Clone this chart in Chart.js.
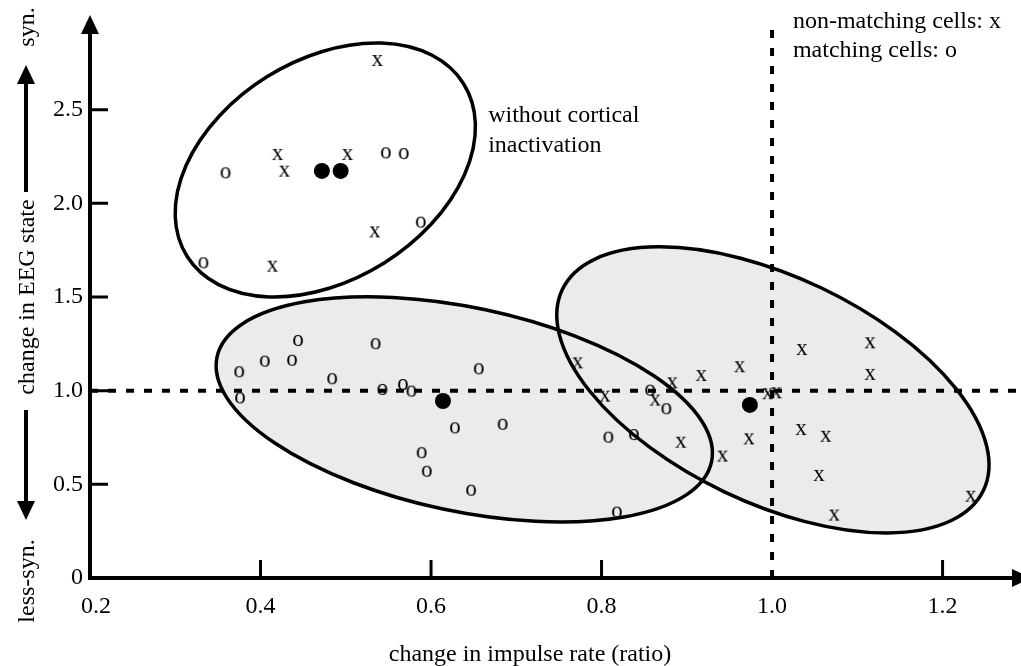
<!DOCTYPE html>
<html>
<head>
<meta charset="utf-8">
<script src="https://cdn.jsdelivr.net/npm/chart.js@4/dist/chart.umd.min.js"></script>
<style>
  html, body { margin: 0; padding: 0; background: #fff; }
  #wrap { width: 1021px; height: 666px; position: relative; }
</style>
</head>
<body>
<div id="wrap"><canvas id="chart"></canvas></div>
<script>
// non-matching cells (x)
var nonMatchingX = [0.537, 0.420, 0.428, 0.502, 0.534, 0.414,
  0.772, 0.804, 0.863, 0.883, 0.917, 0.962, 0.995, 1.005, 0.893, 0.942, 0.973,
  1.035, 1.115, 1.115, 1.034, 1.063, 1.055, 1.073, 1.233];
var nonMatchingY = [2.760, 2.258, 2.169, 2.258, 1.845, 1.662,
  1.146, 0.968, 0.947, 1.039, 1.078, 1.125, 0.981, 0.986, 0.722, 0.648, 0.740,
  1.217, 1.253, 1.084, 0.790, 0.754, 0.545, 0.333, 0.434];

// matching cells (o)
var matchingX = [0.547, 0.568, 0.359, 0.588, 0.333,
  0.444, 0.535, 0.405, 0.437, 0.375, 0.484, 0.656, 0.376, 0.543, 0.567, 0.577,
  0.628, 0.684, 0.589, 0.595, 0.647,
  0.857, 0.876, 0.808, 0.838, 0.818];
var matchingY = [2.267, 2.263, 2.160, 1.897, 1.680,
  1.265, 1.248, 1.155, 1.160, 1.098, 1.061, 1.114, 0.959, 1.004, 1.030, 0.995,
  0.799, 0.818, 0.666, 0.567, 0.466,
  1.000, 0.901, 0.749, 0.763, 0.349];

// group means (filled dots)
var meanX = [0.472, 0.494, 0.614, 0.974];
var meanY = [2.173, 2.173, 0.945, 0.924];

var xTicks = [0.2, 0.4, 0.6, 0.8, 1.0, 1.2];
var xTickLabels = ['0.2', '0.4', '0.6', '0.8', '1.0', '1.2'];
var yTicks = [0, 0.5, 1.0, 1.5, 2.0, 2.5];
var yTickLabels = ['0', '0.5', '1.0', '1.5', '2.0', '2.5'];

// ellipses in data units: centre, end of long half-axis, end of short half-axis
var ellipseCentres = [[0.476, 2.178], [0.639, 0.900], [1.001, 1.004]];
var ellipseMajorEnds = [[0.638, 2.640], [0.929, 0.620], [1.248, 0.468]];
var ellipseMinorEnds = [[0.545, 1.682], [0.614, 0.368], [0.944, 0.460]];
var ellipseShaded = [false, true, true];

var FONT = '"Liberation Serif", "Times New Roman", serif';

function toPoints(xs, ys) {
  return xs.map(function (v, i) { return { x: v, y: ys[i] }; });
}

// letter used as a point marker
function glyph(ch) {
  var c = document.createElement('canvas');
  c.width = 24; c.height = 24;
  var g = c.getContext('2d');
  g.font = '23px ' + FONT;
  g.textAlign = 'center';
  g.fillStyle = '#000';
  g.fillText(ch, 12, 17.3);
  return c;
}

function ellipsePath(ctx, xs, ys, i) {
  var cx = xs.getPixelForValue(ellipseCentres[i][0]), cy = ys.getPixelForValue(ellipseCentres[i][1]);
  var ux = xs.getPixelForValue(ellipseMajorEnds[i][0]) - cx, uy = ys.getPixelForValue(ellipseMajorEnds[i][1]) - cy;
  var vx = xs.getPixelForValue(ellipseMinorEnds[i][0]) - cx, vy = ys.getPixelForValue(ellipseMinorEnds[i][1]) - cy;
  ctx.save();
  ctx.transform(ux, uy, vx, vy, cx, cy);
  ctx.beginPath();
  ctx.arc(0, 0, 1, 0, Math.PI * 2);
  ctx.restore();
}

function arrowHead(ctx, tipX, tipY, dx, dy, len, half) {
  ctx.beginPath();
  ctx.moveTo(tipX, tipY);
  ctx.lineTo(tipX - dx * len - dy * half, tipY - dy * len + dx * half);
  ctx.lineTo(tipX - dx * len + dy * half, tipY - dy * len - dx * half);
  ctx.closePath();
  ctx.fill();
}

function rotatedText(ctx, text, x, y) {
  ctx.save();
  ctx.translate(x, y);
  ctx.rotate(-Math.PI / 2);
  ctx.textAlign = 'center';
  ctx.textBaseline = 'alphabetic';
  ctx.fillText(text, 0, 0);
  ctx.restore();
}

var frame = {
  id: 'frame',
  beforeDatasetsDraw: function (chart) {
    var ctx = chart.ctx, a = chart.chartArea;
    var xs = chart.scales.x, ys = chart.scales.y;
    var x0 = xs.getPixelForValue(xTicks[0]);
    var y0 = ys.getPixelForValue(yTicks[0]);
    var i;
    ctx.save();
    ctx.fillStyle = '#000';
    ctx.strokeStyle = '#000';

    // shaded regions
    ctx.fillStyle = '#ebebeb';
    for (i = 0; i < ellipseCentres.length; i++) {
      if (!ellipseShaded[i]) continue;
      ellipsePath(ctx, xs, ys, i);
      ctx.fill();
    }

    // dashed lines at ratio 1.0
    ctx.setLineDash([8, 10]);
    ctx.lineWidth = 4;
    var y1 = ys.getPixelForValue(1.0), x1 = xs.getPixelForValue(1.0);
    ctx.beginPath();
    ctx.moveTo(x0, y1); ctx.lineTo(a.right, y1);
    ctx.moveTo(x1, y0); ctx.lineTo(x1, a.top + 5);
    ctx.stroke();
    ctx.setLineDash([]);

    // ellipse outlines
    ctx.lineWidth = 3.5;
    for (i = 0; i < ellipseCentres.length; i++) {
      ellipsePath(ctx, xs, ys, i);
      ctx.stroke();
    }

    // axes with arrows
    ctx.fillStyle = '#000';
    ctx.lineWidth = 4;
    ctx.beginPath();
    ctx.moveTo(x0, y0 + 2); ctx.lineTo(x0, a.top + 14);
    ctx.moveTo(x0 - 2, y0); ctx.lineTo(a.right - 6, y0);
    ctx.stroke();
    arrowHead(ctx, x0, a.top - 1, 0, -1, 19, 9);
    arrowHead(ctx, a.right + 10, y0, 1, 0, 19, 9);

    // ticks
    ctx.lineWidth = 3;
    ctx.beginPath();
    yTicks.forEach(function (v) {
      if (v === 0) return;
      var p = ys.getPixelForValue(v);
      ctx.moveTo(x0, p); ctx.lineTo(x0 + 18, p);
    });
    xTicks.forEach(function (v) {
      if (v === 0.2 || v === 1.0) return;
      var p = xs.getPixelForValue(v);
      ctx.moveTo(p, y0); ctx.lineTo(p, y0 - 18);
    });
    ctx.stroke();

    // tick labels
    ctx.font = '24px ' + FONT;
    ctx.textAlign = 'right';
    ctx.textBaseline = 'middle';
    yTicks.forEach(function (v, k) {
      ctx.fillText(yTickLabels[k], x0 - 7, ys.getPixelForValue(v));
    });
    ctx.textAlign = 'center';
    ctx.textBaseline = 'alphabetic';
    xTicks.forEach(function (v, k) {
      var p = xs.getPixelForValue(v);
      if (k === 0) p += 6;
      ctx.fillText(xTickLabels[k], p, y0 + 35);
    });

    // axis titles
    ctx.fillText('change in impulse rate (ratio)', 530, 661);
    rotatedText(ctx, 'syn.', 34, 27);
    rotatedText(ctx, 'change in EEG state', 34, 297);
    rotatedText(ctx, 'less-syn.', 34, 581);
    ctx.lineWidth = 4;
    ctx.beginPath();
    ctx.moveTo(26, 192); ctx.lineTo(26, 80);
    ctx.moveTo(26, 410); ctx.lineTo(26, 503);
    ctx.stroke();
    arrowHead(ctx, 26, 65, 0, -1, 19, 9);
    arrowHead(ctx, 26, 520, 0, 1, 19, 9);

    // notes
    ctx.textAlign = 'left';
    ctx.fillText('without cortical', xs.getPixelForValue(0.667), ys.getPixelForValue(2.434));
    ctx.fillText('inactivation', xs.getPixelForValue(0.667), ys.getPixelForValue(2.274));
    ctx.fillText('non-matching cells: x', xs.getPixelForValue(1.0245), ys.getPixelForValue(2.936));
    ctx.fillText('matching cells: o', xs.getPixelForValue(1.0245), ys.getPixelForValue(2.781));
    ctx.restore();
  }
};

new Chart(document.getElementById('chart').getContext('2d'), {
  type: 'scatter',
  data: {
    datasets: [{
      label: 'non-matching cells',
      data: toPoints(nonMatchingX, nonMatchingY),
      pointStyle: glyph('x'),
      clip: false
    }, {
      label: 'matching cells',
      data: toPoints(matchingX, matchingY),
      pointStyle: glyph('o'),
      clip: false
    }, {
      label: 'mean',
      data: toPoints(meanX, meanY),
      pointStyle: 'circle',
      pointRadius: 8,
      backgroundColor: '#000',
      borderColor: '#000',
      borderWidth: 0,
      clip: false
    }]
  },
  options: {
    responsive: true,
    maintainAspectRatio: false,
    animation: false,
    events: [],
    layout: { autoPadding: false, padding: { left: 90, right: 0, top: 16, bottom: 88 } },
    scales: {
      x: { type: 'linear', min: 0.2, max: 1.292, display: false },
      y: { type: 'linear', min: 0, max: 3.0, display: false }
    },
    plugins: {
      legend: { display: false },
      tooltip: { enabled: false }
    }
  },
  plugins: [frame]
});
</script>
</body>
</html>
